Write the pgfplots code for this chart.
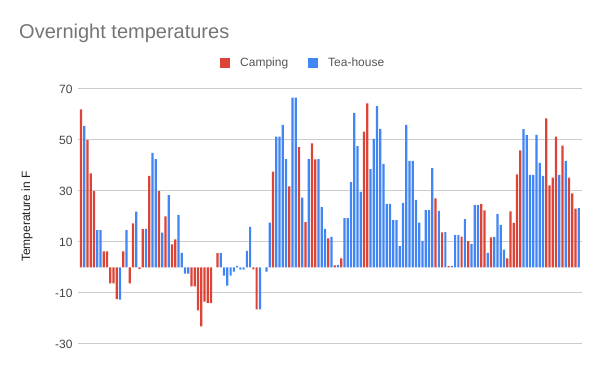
\documentclass[border=0pt]{standalone}
\usepackage{pgfplots}
\pgfplotsset{compat=1.18}
\usepackage{pgfplotstable}
\usepackage{fontspec}
\setmainfont{Liberation Sans}
\definecolor{camp}{HTML}{DB4437}
\definecolor{tea}{HTML}{4285F4}
\definecolor{gridc}{HTML}{CCCCCC}
\definecolor{titlec}{HTML}{757575}
\definecolor{tickc}{HTML}{444444}
\definecolor{labc}{HTML}{222222}
\definecolor{legc}{HTML}{555555}

\pgfplotstableread{
x y
1 62
3 50
4 36.9
5 29.9
8 6.3
9 6.3
10 -6.2
11 -6.2
12 -12.4
14 6.3
16 -6.2
17 17.3
19 -0.5
20 15
22 35.9
25 29.9
27 20
29 9.1
30 11
35 -7.4
36 -7.4
37 -16.8
38 -23.1
39 -13.4
40 -14
41 -14
43 5.6
54 -0.7
55 -16.4
60 37.6
65 31.8
68 47.2
70 17.8
72 48.7
73 42.4
77 11.4
79 0.8
81 3.6
88 53.3
89 64.4
110 27.1
112 13.8
114 0.5
118 12.1
120 10.3
124 24.9
125 22.4
127 11.8
132 3.6
133 22
134 17.5
135 36.5
136 45.9
144 58.5
145 32.2
146 35.2
147 51.3
149 47.8
151 35.2
152 29.1
153 23.1
}\camping

\pgfplotstableread{
x y
2 55.5
6 14.7
7 14.7
13 -12.6
15 14.7
18 21.9
21 15.1
23 44.9
24 42.5
26 13.7
28 28.4
31 20.6
32 5.7
33 -2.4
34 -2.4
44 5.6
45 -3.2
46 -7.1
47 -3.2
48 -1.6
49 0.6
50 -0.8
51 -0.8
52 6.5
53 15.9
56 -16.4
58 -1.6
59 17.6
61 51.3
62 51.3
63 55.9
64 42.5
66 66.6
67 66.6
69 27.4
71 42.5
74 42.5
75 23.7
76 15.1
78 12
80 1
82 19.4
83 19.4
84 33.5
85 60.6
86 47.6
87 29.7
90 38.6
91 50.4
92 63.3
93 54.4
94 40.6
95 24.9
96 24.9
97 18.6
98 18.6
99 8.4
100 25.3
101 55.9
102 41.8
103 41.8
104 26.5
105 17.6
106 10.4
107 22.5
108 22.5
109 39
111 22.2
113 13.9
115 0.6
116 12.7
117 12.7
119 19
121 9.2
122 24.5
123 24.5
126 5.7
128 12
129 21
130 16.7
131 7
137 54.3
138 52
139 36.3
140 36.3
141 52
142 41
143 35.9
148 36.3
150 41.8
154 23.3
}\teahouse

\begin{document}
\begin{tikzpicture}
\path[use as bounding box] (0,0) rectangle (600pt,371pt);
\node[anchor=base west, inner sep=0pt, text=titlec, font=\fontsize{20}{24}\selectfont] at (19pt,332.7pt) {Overnight temperatures};
\begin{axis}[
  at={(78pt,27pt)}, anchor=south west,
  scale only axis, width=503.7pt, height=255pt,
  xmin=0.1, xmax=154.9, ymin=-30, ymax=70,
  xtick=\empty,
  ytick={-30,-10,10,30,50,70},
  yticklabels={-30,-10,10,30,50,70},
  ymajorgrids, grid style={gridc, line width=1pt},
  axis line style={draw=none},
  major tick length=0pt,
  yticklabel style={font=\fontsize{12}{14}\selectfont, text=tickc, anchor=east, inner sep=0pt, xshift=-5.3pt},
  ylabel={Temperature in F},
  every axis y label/.style={at={(axis description cs:-0.1013,0.5)}, rotate=90, anchor=center, inner sep=0pt, font=\fontsize{12}{14}\selectfont, text=labc},
  ybar, bar width=0.68, bar shift=0pt,
  legend columns=2,
  legend style={at={(axis description cs:0.2819,1.102)}, anchor=west, draw=none, fill=none, inner sep=0pt, font=\fontsize{12}{14}\selectfont, text=legc,
    nodes={inner sep=0pt},
    /tikz/every odd column/.append style={column sep=10pt},
    /tikz/every even column/.append style={column sep=20pt}},
  legend cell align=left,
  legend image code/.code={\fill[#1] (0pt,-5pt) rectangle (10pt,5pt);},
]
\addplot[fill=camp, draw=none] table[x=x,y=y] {\camping};
\addlegendentry{Camping}
\addplot[fill=tea, draw=none] table[x=x,y=y] {\teahouse};
\addlegendentry{Tea-house}
\end{axis}
\end{tikzpicture}
\end{document}
